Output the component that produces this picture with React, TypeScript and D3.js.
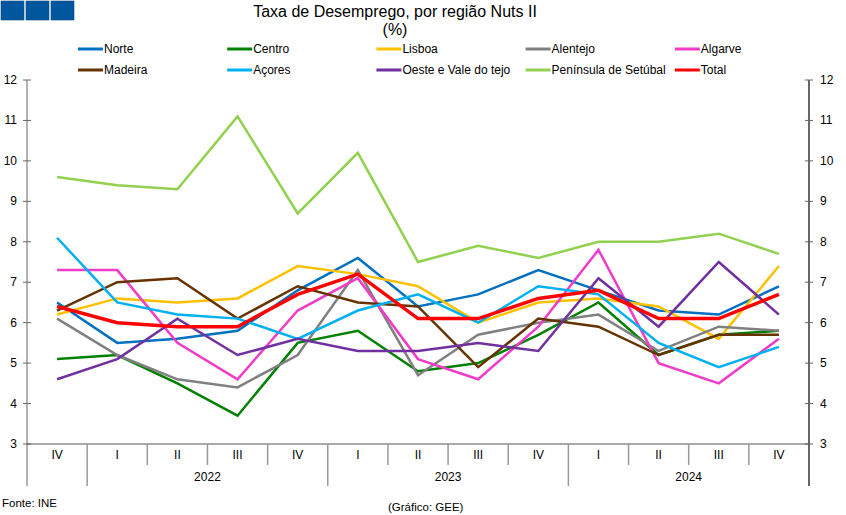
import React from "react";
import * as d3 from "d3";

const quarters = ["IV", "I", "II", "III", "IV", "I", "II", "III", "IV", "I", "II", "III", "IV"];
const years = [
  { label: "2022", from: 1, to: 5 },
  { label: "2023", from: 5, to: 9 },
  { label: "2024", from: 9, to: 13 },
];
const yTicks = [3, 4, 5, 6, 7, 8, 9, 10, 11, 12];

const norte = [6.5, 5.5, 5.6, 5.8, 6.8, 7.6, 6.4, 6.7, 7.3, 6.8, 6.3, 6.2, 6.9];
const centro = [5.1, 5.2, 4.5, 3.7, 5.5, 5.8, 4.8, 5.0, 5.7, 6.5, 5.2, 5.7, 5.8];
const lisboa = [6.2, 6.6, 6.5, 6.6, 7.4, 7.2, 6.9, 6.0, 6.5, 6.6, 6.4, 5.6, 7.4];
const alentejo = [6.1, 5.2, 4.6, 4.4, 5.2, 7.3, 4.7, 5.7, 6.0, 6.2, 5.3, 5.9, 5.8];
const algarve = [7.3, 7.3, 5.5, 4.6, 6.3, 7.1, 5.1, 4.6, 5.9, 7.8, 5.0, 4.5, 5.6];
const madeira = [6.3, 7.0, 7.1, 6.1, 6.9, 6.5, 6.4, 4.9, 6.1, 5.9, 5.2, 5.7, 5.7];
const acores = [8.1, 6.5, 6.2, 6.1, 5.6, 6.3, 6.7, 6.0, 6.9, 6.7, 5.5, 4.9, 5.4];
const oeste = [4.6, 5.1, 6.1, 5.2, 5.6, 5.3, 5.3, 5.5, 5.3, 7.1, 5.9, 7.5, 6.2];
const setubal = [9.6, 9.4, 9.3, 11.1, 8.7, 10.2, 7.5, 7.9, 7.6, 8.0, 8.0, 8.2, 7.7];
const total = [6.4, 6.0, 5.9, 5.9, 6.7, 7.2, 6.1, 6.1, 6.6, 6.8, 6.1, 6.1, 6.7];

const series = [
  { name: "Norte", values: norte, color: "#0070C0" },
  { name: "Centro", values: centro, color: "#008000" },
  { name: "Lisboa", values: lisboa, color: "#FFC000" },
  { name: "Alentejo", values: alentejo, color: "#808080" },
  { name: "Algarve", values: algarve, color: "#F03CC8" },
  { name: "Madeira", values: madeira, color: "#663300" },
  { name: "Açores", values: acores, color: "#00B0F0" },
  { name: "Oeste e Vale do tejo", values: oeste, color: "#7030A0" },
  { name: "Península de Setúbal", values: setubal, color: "#92D050" },
  { name: "Total", values: total, color: "#FF0000" },
];

const W = 846;
const H = 515;
const left = 27;
const right = 809;
const top = 80;
const bottom = 444;
const FONT = "'Liberation Sans', Arial, sans-serif";

export default function App() {
  const x = d3
    .scaleBand<number>()
    .domain(quarters.map((_, i) => i))
    .range([left, right]);
  const y = d3.scaleLinear().domain([3, 12]).range([bottom, top]);
  const cx = (i: number) => (x(i) ?? 0) + x.bandwidth() / 2;
  const edge = (i: number) => (i < quarters.length ? x(i) ?? 0 : right);

  const line = d3
    .line<number>()
    .x((_, i) => cx(i))
    .y((d) => y(d));

  return (
    <div style={{ position: "fixed", top: 0, left: 0 }}>
      <svg width={W} height={H} style={{ display: "block", background: "#fff" }} fontFamily={FONT}>
        {/* logo */}
        {[0, 1, 2].map((k) => (
          <rect key={k} x={1 + k * 25} y={1} width={23} height={19} fill="#00579D" stroke="#004a86" strokeWidth={0.6} />
        ))}

        <text x={395} y={17} textAnchor="middle" fontSize={16} fill="#000">
          Taxa de Desemprego, por região Nuts II
        </text>
        <text x={395} y={35} textAnchor="middle" fontSize={16} fill="#000">
          (%)
        </text>

        {/* legend */}
        {series.map((s, k) => {
          const col = k % 5;
          const row = Math.floor(k / 5);
          const lx = 78 + col * 149.2;
          const ly = 49 + row * 21;
          return (
            <g key={s.name}>
              <line x1={lx} x2={lx + 25} y1={ly} y2={ly} stroke={s.color} strokeWidth={3} />
              <text x={lx + 26} y={ly + 4} fontSize={12} fill="#000">
                {s.name}
              </text>
            </g>
          );
        })}

        {/* y axes */}
        <line x1={left} x2={left} y1={top} y2={486} stroke="#999" strokeWidth={1.5} />
        <line x1={right} x2={right} y1={top} y2={486} stroke="#000" strokeWidth={1.2} />
        {yTicks.map((t) => (
          <g key={t}>
            <line x1={left - 4} x2={left + 4} y1={y(t)} y2={y(t)} stroke="#666" strokeWidth={1} />
            <line x1={right - 4} x2={right + 4} y1={y(t)} y2={y(t)} stroke="#666" strokeWidth={1} />
            <text x={17} y={y(t) + 4} textAnchor="end" fontSize={12} fill="#000">
              {t}
            </text>
            <text x={820} y={y(t) + 4} textAnchor="start" fontSize={12} fill="#000">
              {t}
            </text>
          </g>
        ))}

        {/* x axis */}
        <line x1={left} x2={right} y1={bottom} y2={bottom} stroke="#555" strokeWidth={1.2} />
        {quarters.map((q, i) => {
          const isYear = years.some((yr) => yr.from === i);
          return (
            <g key={i}>
              {i > 0 && (
                <line
                  x1={edge(i)}
                  x2={edge(i)}
                  y1={bottom}
                  y2={isYear ? 486 : 465}
                  stroke="#999"
                  strokeWidth={1.5}
                />
              )}
              <text x={cx(i)} y={459} textAnchor="middle" fontSize={12} fill="#000">
                {q}
              </text>
            </g>
          );
        })}
        {years.map((yr) => (
          <text
            key={yr.label}
            x={(edge(yr.from) + edge(yr.to)) / 2}
            y={481}
            textAnchor="middle"
            fontSize={12}
            fill="#000"
          >
            {yr.label}
          </text>
        ))}

        {/* series */}
        {series.map((s) => (
          <path
            key={s.name}
            d={line(s.values) ?? ""}
            fill="none"
            stroke={s.color}
            strokeWidth={s.name === "Total" ? 3.5 : 2.5}
            strokeLinejoin="miter"
          />
        ))}

        <text x={2} y={507} fontSize={11.5} fill="#000">
          Fonte: INE
        </text>
        <text x={388} y={511} fontSize={11.5} fill="#000">
          (Gráfico: GEE)
        </text>
      </svg>
    </div>
  );
}
